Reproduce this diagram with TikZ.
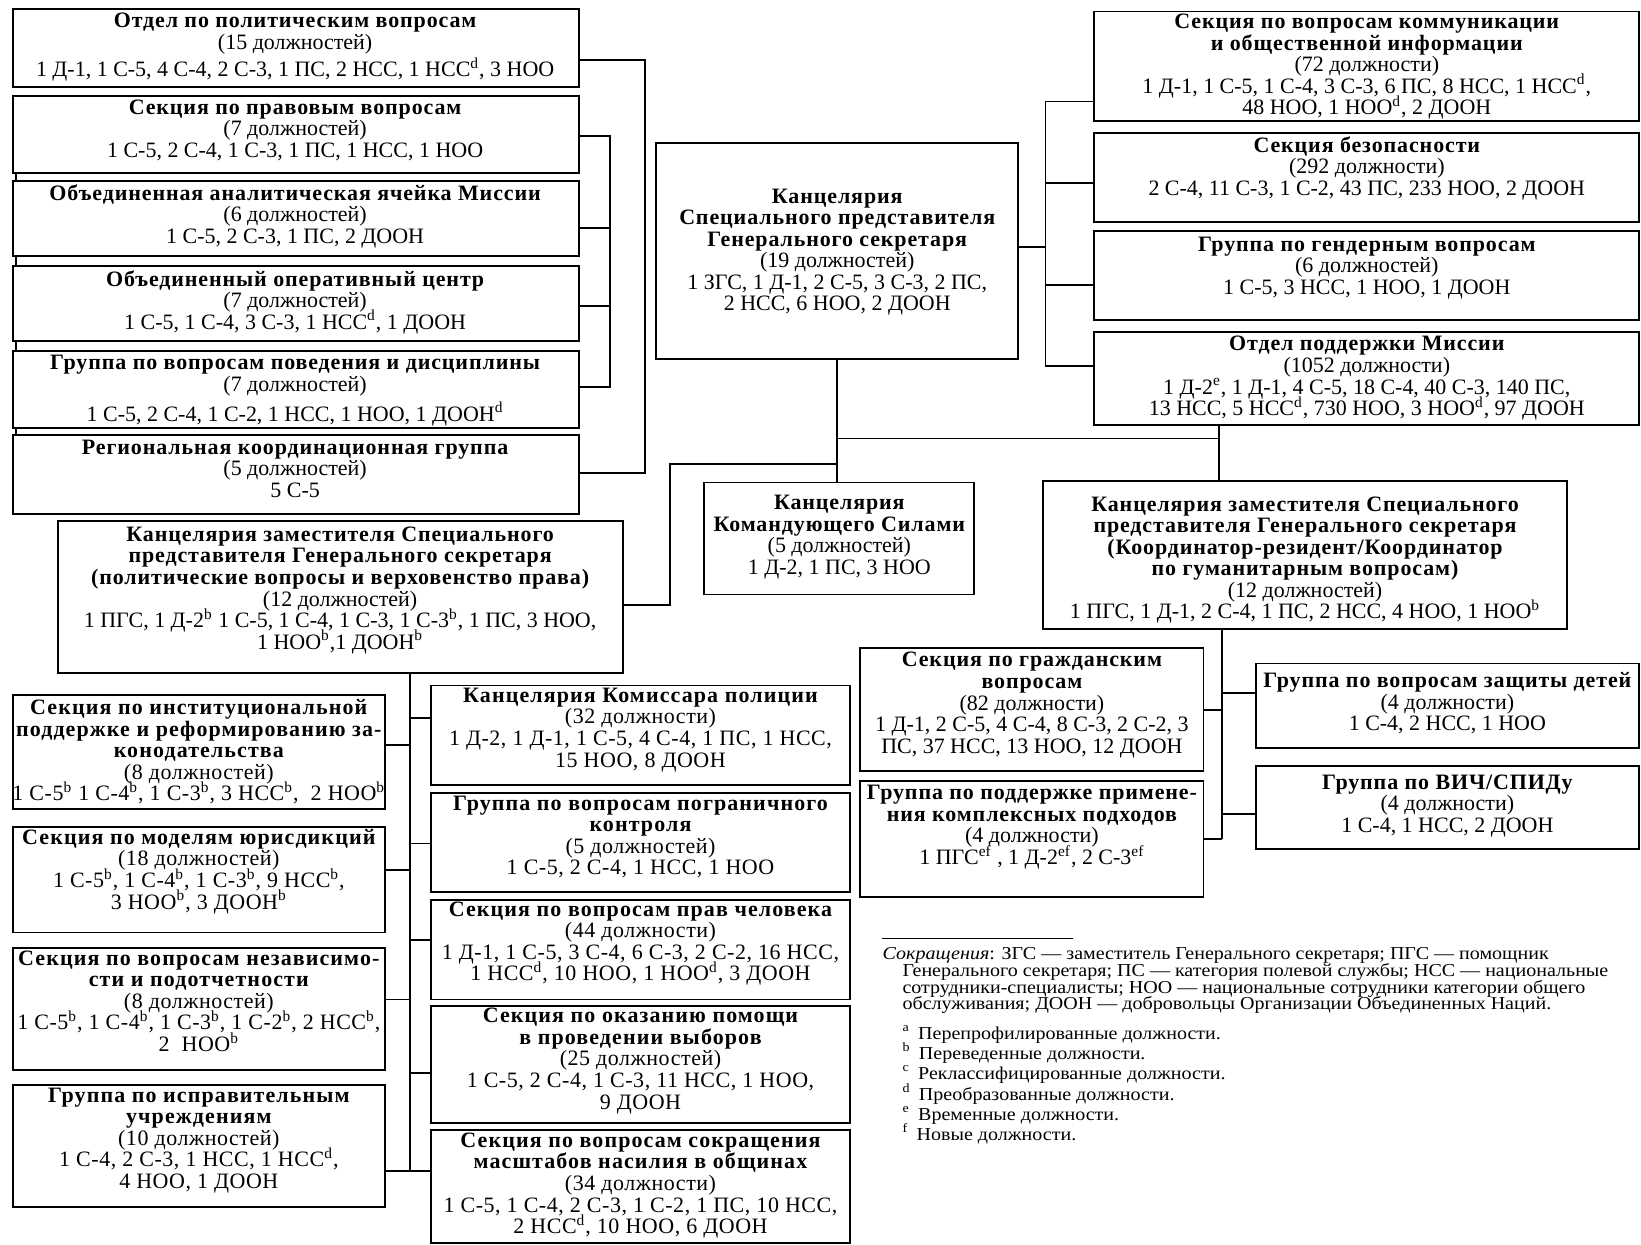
\documentclass[tikz,border=0pt]{standalone}
\usepackage{fontspec}
\setmainfont{Liberation Serif}
\newfontfamily\hdfam{Liberation Serif}[LetterSpace=4]
\newfontfamily\hwfam{Liberation Serif}[LetterSpace=5]
\newfontfamily\nwfam{Liberation Serif}[LetterSpace=2.5]
\newfontfamily\notefam{Liberation Serif}[FakeStretch=1.1]
\newcommand{\hd}{\hdfam\bfseries}
\newcommand{\nm}{\rmfamily\mdseries\upshape}
\newcommand{\hw}{\hwfam\bfseries}
\newcommand{\nw}{\nwfam\mdseries\upshape}
\newcommand{\sps}[1]{\smash{\textsuperscript{#1}}}
\newcommand{\tightlines}{\lineskiplimit=-20pt\relax\lineskip=0pt\relax}
\usetikzlibrary{fit}

\begin{document}
\begin{tikzpicture}[x=0.5pt, y=-0.5pt,
  box/.style={draw, line width=0.9pt, fill=white, inner sep=0pt},
  txt/.style={anchor=north, align=center, inner sep=0pt, font=\fontsize{10.5}{10.3}\selectfont\tightlines},
  link/.style={line width=0.9pt},
  note/.style={anchor=north west, align=left, inner sep=0pt, font=\notefam\fontsize{8.7}{8}\selectfont\tightlines}]
  \useasboundingbox (0,0) rectangle (1568,1189);

  \draw[link] (15,165) -- (15,416);

  \node[box, fit={(12,9) (553,83)}] (pol) {};
  \node[txt] (pol-t) at (282,12) {\hd Отдел по политическим вопросам\\\nm(15 должностей)\\[3pt]\nm 1 Д-1, 1 С-5, 4 С-4, 2 С-3, 1 ПС, 2 НСС, 1 НСС\sps{d}, 3 НОО};
  \node[box, fit={(12,92) (553,165)}] (leg) {};
  \node[txt] (leg-t) at (282,95) {\hd Секция по правовым вопросам\\\nm(7 должностей)\\\nm 1 С-5, 2 С-4, 1 С-3, 1 ПС, 1 НСС, 1 НОО};
  \node[box, fit={(12,173) (553,245)}] (jmac) {};
  \node[txt] (jmac-t) at (282,176) {\hd Объединенная аналитическая ячейка Миссии\\\nm(6 должностей)\\\nm 1 С-5, 2 С-3, 1 ПС, 2 ДООН};
  \node[box, fit={(12,254) (553,326)}] (joc) {};
  \node[txt] (joc-t) at (282,258) {\hd Объединенный оперативный центр\\\nm(7 должностей)\\\nm 1 С-5, 1 С-4, 3 С-3, 1 НСС\sps{d}, 1 ДООН};
  \node[box, fit={(12,335) (553,409)}] (cdu) {};
  \node[txt] (cdu-t) at (282,339) {\hd Группа по вопросам поведения и дисциплины\\\nm(7 должностей)\\[4pt]\nm 1 С-5, 2 С-4, 1 С-2, 1 НСС, 1 НОО, 1 ДООН\sps{d}};
  \node[box, fit={(12,416) (553,491)}] (rcg) {};
  \node[txt] (rcg-t) at (282,420) {\hd Региональная координационная группа\\\nm(5 должностей)\\\nm 5 С-5};

  \draw[link] (pol.east |- 0,57) -- (616,57) |- (rcg.east |- 0,452);
  \draw[link] (leg.east |- 0,130) -- (583,130) |- (cdu.east |- 0,370);
  \draw[link] (jmac.east |- 0,218) -- (583,218);
  \draw[link] (joc.east |- 0,292) -- (583,292);

  \node[box, fit={(627,137) (973,343)}] (srsg) {};
  \node[txt] (srsg-t) at (800,180) {\hd Канцелярия\\\hd Специального представителя\\\hd Генерального секретаря\\\nm(19 должностей)\\\nm 1 ЗГС, 1 Д-1, 2 С-5, 3 С-3, 2 ПС,\\\nm 2 НСС, 6 НОО, 2 ДООН};

  \node[box, fit={(1045,11) (1566,116)}] (comm) {};
  \node[txt] (comm-t) at (1306,13) {\hd Секция по вопросам коммуникации\\\hd и общественной информации\\\nm(72 должности)\\\nm 1 Д-1, 1 С-5, 1 С-4, 3 С-3, 6 ПС, 8 НСС, 1 НСС\sps{d},\\\nm 48 НОО, 1 НОО\sps{d}, 2 ДООН};
  \node[box, fit={(1045,127) (1566,212)}] (sec) {};
  \node[txt] (sec-t) at (1306,130) {\hd Секция безопасности\\\nm(292 должности)\\\nm 2 С-4, 11 С-3, 1 С-2, 43 ПС, 233 НОО, 2 ДООН};
  \node[box, fit={(1045,221) (1566,306)}] (gen) {};
  \node[txt] (gen-t) at (1306,226) {\hd Группа по гендерным вопросам\\\nm(6 должностей)\\\nm 1 С-5, 3 НСС, 1 НОО, 1 ДООН};
  \node[box, fit={(1045,317) (1566,406)}] (msd) {};
  \node[txt] (msd-t) at (1306,321) {\hd Отдел поддержки Миссии\\\nm(1052 должности)\\\nm 1 Д-2\sps{e}, 1 Д-1, 4 С-5, 18 С-4, 40 С-3, 140 ПС,\\\nm 13 НСС, 5 НСС\sps{d}, 730 НОО, 3 НОО\sps{d}, 97 ДООН};

  \draw[link] (srsg.east |- 0,236) -- (999,236);
  \draw[link] (comm.west |- 0,97) -- (999,97) |- (msd.west |- 0,350);
  \draw[link] (sec.west |- 0,175) -- (999,175);
  \draw[link] (gen.west |- 0,272) -- (999,272);

  \node[box, fit={(673,461) (931,568)}] (fc) {};
  \node[txt] (fc-t) at (802,473) {\hd Канцелярия\\\hd Командующего Силами\\\nm(5 должностей)\\\nm 1 Д-2, 1 ПС, 3 НОО};
  \node[box, fit={(997,460) (1497,601)}] (rc) {};
  \node[txt] (rc-t) at (1247,474) {\hd Канцелярия заместителя Специального\\\hd представителя Генерального секретаря\\\hd (Координатор-резидент/Координатор\\\hd по гуманитарным вопросам)\\\nm(12 должностей)\\\nm 1 ПГС, 1 Д-1, 2 С-4, 1 ПС, 2 НСС, 4 НОО, 1 НОО\sps{b}};
  \node[box, fit={(55,498) (595,643)}] (dpol) {};
  \node[txt] (dpol-t) at (325,503) {\hd Канцелярия заместителя Специального\\\hd представителя Генерального секретаря\\\hd (политические вопросы и верховенство права)\\\nm(12 должностей)\\\nm 1 ПГС, 1 Д-2\sps{b} 1 С-5, 1 С-4, 1 С-3, 1 С-3\sps{b}, 1 ПС, 3 НОО,\\\nm 1 НОО\sps{b},1 ДООН\sps{b}};

  \draw[link] (srsg.south) -- (srsg.south |- fc.north);
  \draw[link] (srsg.south |- 0,419) -- (1165,419);
  \draw[link] (msd.south -| 1165,0) -- (rc.north -| 1165,0);
  \draw[link] (srsg.south |- 0,443) -- (640,443) |- (dpol.east |- 0,578);

  \node[box, fit={(12,664) (368,773)}] (inst) {};
  \node[txt] (inst-t) at (190,668) {\hw Секция по институциональной\\\hw поддержке и реформированию за-\\\hw конодательства\\\nw(8 должностей)\\\nw 1 С-5\sps{b} 1 С-4\sps{b}, 1 С-3\sps{b}, 3 НСС\sps{b},~ 2 НОО\sps{b}};
  \node[box, fit={(12,790) (368,891)}] (jur) {};
  \node[txt] (jur-t) at (190,792) {\hw Секция по моделям юрисдикций\\\nw(18 должностей)\\\nw 1 С-5\sps{b}, 1 С-4\sps{b}, 1 С-3\sps{b}, 9 НСС\sps{b},\\\nw 3 НОО\sps{b}, 3 ДООН\sps{b}};
  \node[box, fit={(12,906) (368,1022)}] (ind) {};
  \node[txt] (ind-t) at (190,908) {\hw Секция по вопросам независимо-\\\hw сти и подотчетности\\\nw(8 должностей)\\\nw 1 С-5\sps{b}, 1 С-4\sps{b}, 1 С-3\sps{b}, 1 С-2\sps{b}, 2 НСС\sps{b},\\\nw 2~ НОО\sps{b}};
  \node[box, fit={(12,1037) (368,1153)}] (cor) {};
  \node[txt] (cor-t) at (190,1039) {\hw Группа по исправительным\\\hw учреждениям\\\nw(10 должностей)\\\nw 1 С-4, 2 С-3, 1 НСС, 1 НСС\sps{d},\\\nw 4 НОО, 1 ДООН};

  \node[box, fit={(412,655) (812,750)}] (pc) {};
  \node[txt] (pc-t) at (612,657) {\hw Канцелярия Комиссара полиции\\\nw(32 должности)\\\nw 1 Д-2, 1 Д-1, 1 С-5, 4 С-4, 1 ПС, 1 НСС,\\\nw 15 НОО, 8 ДООН};
  \node[box, fit={(412,758) (812,852)}] (bor) {};
  \node[txt] (bor-t) at (612,760) {\hw Группа по вопросам пограничного\\\hw контроля\\\nw(5 должностей)\\\nw 1 С-5, 2 С-4, 1 НСС, 1 НОО};
  \node[box, fit={(412,860) (812,955)}] (hr) {};
  \node[txt] (hr-t) at (612,861) {\hw Секция по вопросам прав человека\\\nw(44 должности)\\\nw 1 Д-1, 1 С-5, 3 С-4, 6 С-3, 2 С-2, 16 НСС,\\\nw 1 НСС\sps{d}, 10 НОО, 1 НОО\sps{d}, 3 ДООН};
  \node[box, fit={(412,961) (812,1073)}] (ele) {};
  \node[txt] (ele-t) at (612,963) {\hw Секция по оказанию помощи\\\hw в проведении выборов\\\nw(25 должностей)\\\nw 1 С-5, 2 С-4, 1 С-3, 11 НСС, 1 НОО,\\\nw 9 ДООН};
  \node[box, fit={(412,1080) (812,1188)}] (cvr) {};
  \node[txt] (cvr-t) at (612,1082) {\hw Секция по вопросам сокращения\\\hw масштабов насилия в общинах\\\nw(34 должности)\\\nw 1 С-5, 1 С-4, 2 С-3, 1 С-2, 1 ПС, 10 НСС,\\\nw 2 НСС\sps{d}, 10 НОО, 6 ДООН};

  \draw[link] (dpol.south -| 392,0) -- (392,1119);
  \draw[link] (inst.east |- 0,712) -- (392,712);
  \draw[link] (jur.east |- 0,831) -- (392,831);
  \draw[link] (ind.east |- 0,955) -- (392,955);
  \draw[link] (cor.east |- 0,1119) -- (cvr.west |- 0,1119);
  \draw[link] (392,686) -- (pc.west |- 0,686);
  \draw[link] (392,806) -- (bor.west |- 0,806);
  \draw[link] (392,898) -- (hr.west |- 0,898);
  \draw[link] (392,1025) -- (ele.west |- 0,1025);

  \node[box, fit={(822,619) (1150,737)}] (civ) {};
  \node[txt] (civ-t) at (986,623) {\hd Секция по гражданским\\\hd вопросам\\\nm(82 должности)\\\nm 1 Д-1, 2 С-5, 4 С-4, 8 С-3, 2 С-2, 3\\\nm ПС, 37 НСС, 13 НОО, 12 ДООН};
  \node[box, fit={(822,746) (1150,857)}] (ica) {};
  \node[txt] (ica-t) at (986,750) {\hd Группа по поддержке примене-\\\hd ния комплексных подходов\\\nm(4 должности)\\\nm 1 ПГС\sps{ef} , 1 Д-2\sps{ef}, 2 С-3\sps{ef}};
  \node[box, fit={(1200,634) (1566,715)}] (cp) {};
  \node[txt] (cp-t) at (1383,642) {\hd Группа по вопросам защиты детей\\\nm(4 должности)\\\nm 1 С-4, 2 НСС, 1 НОО};
  \node[box, fit={(1200,732) (1566,811)}] (hiv) {};
  \node[txt] (hiv-t) at (1383,740) {\hd Группа по ВИЧ/СПИДу\\\nm(4 должности)\\\nm 1 С-4, 1 НСС, 2 ДООН};

  \draw[link] (rc.south -| 1168,0) -- (1168,802);
  \draw[link] (civ.east |- 0,678) -- (1168,678);
  \draw[link] (ica.east |- 0,802) -- (1168,802);
  \draw[link] (1168,662) -- (cp.west |- 0,662);
  \draw[link] (1168,778) -- (hiv.west |- 0,778);

  \draw[line width=0.5pt] (843,897) -- (1025,897);
  \node[note] (abbr) at (843,905) {\textit{Сокращения}: ЗГС — заместитель Генерального секретаря; ПГС — помощник\\\hspace*{9.5pt}Генерального секретаря; ПС — категория полевой службы; НСС — национальные\\\hspace*{9.5pt}сотрудники-специалисты; НОО — национальные сотрудники категории общего\\\hspace*{9.5pt}обслуживания; ДООН — добровольцы Организации Объединенных Наций.};
  \node[note, font=\notefam\fontsize{8.7}{9.6}\selectfont\tightlines] (keys) at (862,981) {\sps{a}\hspace{4pt}Перепрофилированные должности.\\\sps{b}\hspace{4pt}Переведенные должности.\\\sps{c}\hspace{4pt}Реклассифицированные должности.\\\sps{d}\hspace{4pt}Преобразованные должности.\\\sps{e}\hspace{4pt}Временные должности.\\\sps{f}\hspace{4pt}Новые должности.};
\end{tikzpicture}
\end{document}
